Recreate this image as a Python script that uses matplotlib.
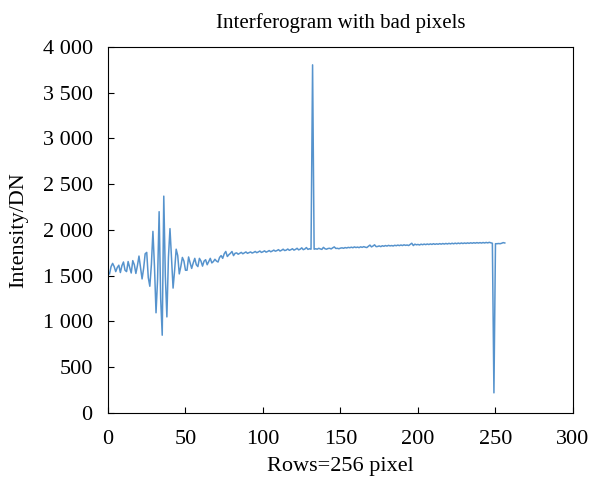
import numpy as np
import matplotlib
matplotlib.use("Agg")
import matplotlib.pyplot as plt
from matplotlib.ticker import FuncFormatter

rows = np.arange(1, 257)
intensity = [
    1520, 1600, 1635, 1600, 1545, 1590, 1615, 1535, 1610, 1650,
    1560, 1545, 1655, 1590, 1530, 1665, 1620, 1525, 1610, 1715,
    1590, 1465, 1580, 1740, 1755, 1480, 1385, 1620, 1985, 1600,
    1095, 1460, 2200, 1250, 850, 2370, 1500, 1050, 1700, 2015,
    1700, 1365, 1560, 1790, 1720, 1520, 1600, 1700, 1660, 1560,
    1560, 1705, 1640, 1580, 1640, 1690, 1620, 1600, 1690, 1660,
    1605, 1660, 1675, 1620, 1655, 1690, 1640, 1655, 1680, 1660,
    1650, 1700, 1720, 1690, 1740, 1765, 1710, 1730, 1745, 1765,
    1720, 1745, 1750, 1735, 1745, 1755, 1740, 1750, 1760, 1745,
    1752, 1760, 1748, 1755, 1765, 1752, 1760, 1770, 1755, 1762,
    1772, 1758, 1765, 1775, 1762, 1770, 1780, 1768, 1775, 1785,
    1770, 1778, 1790, 1775, 1780, 1792, 1778, 1785, 1795, 1780,
    1788, 1800, 1783, 1790, 1805, 1785, 1792, 1808, 1788, 1795,
    1790, 3805, 1790, 1795, 1790, 1800, 1793, 1788, 1810, 1795,
    1790, 1798, 1800, 1793, 1805, 1815, 1798, 1800, 1795, 1802,
    1805, 1800, 1808, 1803, 1810, 1806, 1812, 1806, 1815, 1808,
    1813, 1807, 1816, 1810, 1818, 1812, 1808, 1822, 1835, 1815,
    1825, 1838, 1818, 1820, 1826, 1818, 1828, 1822, 1830, 1824,
    1832, 1826, 1830, 1825, 1833, 1828, 1835, 1829, 1836, 1830,
    1838, 1832, 1836, 1830, 1842, 1855, 1830, 1845, 1838, 1842,
    1836, 1845, 1839, 1846, 1840, 1847, 1841, 1848, 1842, 1850,
    1843, 1849, 1844, 1851, 1845, 1852, 1846, 1853, 1847, 1854,
    1848, 1855, 1849, 1856, 1850, 1857, 1851, 1858, 1852, 1858,
    1853, 1859, 1854, 1860, 1855, 1861, 1856, 1862, 1857, 1862,
    1857, 1863, 1858, 1864, 1859, 1865, 1860, 1855, 220, 1850,
    1850, 1852, 1850, 1855, 1862, 1858,
]

xticks = [0, 50, 100, 150, 200, 250, 300]
yticks = [0, 500, 1000, 1500, 2000, 2500, 3000, 3500, 4000]

plt.rcParams["font.family"] = ["Liberation Serif", "DejaVu Serif"]

fig = plt.figure(figsize=(5.91, 4.82), dpi=100)
ax = fig.add_axes([0.1827, 0.1432, 0.7868, 0.7593])

ax.plot(rows, intensity, color="#5693cd", lw=1.1)

ax.set_xlim(0, 300)
ax.set_ylim(0, 4000)
ax.set_xticks(xticks)
ax.set_yticks(yticks)
ax.yaxis.set_major_formatter(FuncFormatter(lambda v, p: f"{int(v):,}".replace(",", " ")))
ax.tick_params(direction="in", length=4, width=0.8, labelsize=16)
ax.tick_params(axis="x", pad=12)
ax.tick_params(axis="y", pad=11)
for s in ax.spines.values():
    s.set_linewidth(0.8)

ax.set_title("Interferogram with bad pixels", fontsize=15, pad=14)
ax.set_xlabel("Rows=256 pixel", fontsize=16, labelpad=6)
ax.set_ylabel("Intensity/DN", fontsize=16, labelpad=10)

fig.savefig("out.png", dpi=100)
